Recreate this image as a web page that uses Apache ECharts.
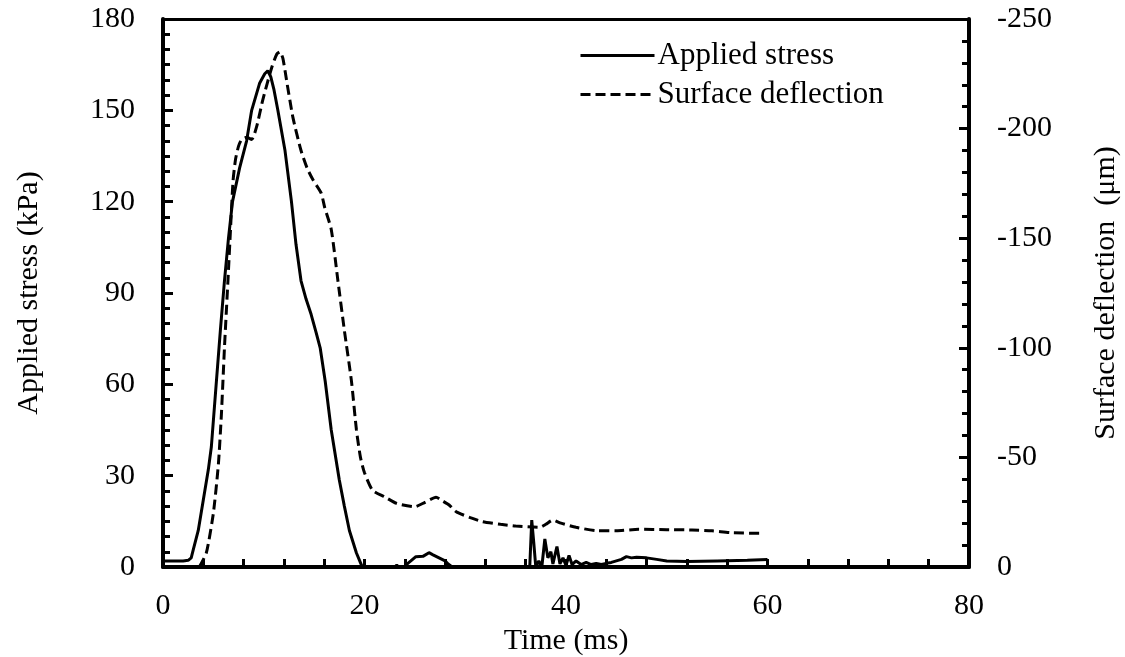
<!DOCTYPE html>
<html><head><meta charset="utf-8">
<script src="https://cdn.jsdelivr.net/npm/echarts@6/dist/echarts.min.js"></script>
<style>html,body{margin:0;padding:0;background:#fff}#c{width:1125px;height:657px}</style>
</head><body><div id="c"></div>
<script>
const stressTime = [0,1,2,2.5,2.8,3.0,3.5,4.0,4.5,4.8,5.3,5.7,6.1,6.5,6.9,7.6,8.3,8.8,9.6,10.1,10.4,10.7,11.0,11.4,12.1,12.75,13.2,13.7,14.2,14.7,15.2,15.6,16.1,16.7,17.5,18.0,18.5,19.2,19.7,20,23,23.2,23.4,24.0,24.3,24.6,25.1,25.8,26.4,26.8,27.4,28.0,28.3,28.7,36.4,36.6,36.8,37.0,37.3,37.6,37.9,38.2,38.5,38.7,39.1,39.4,39.7,40.0,40.3,40.6,41.0,41.5,42,42.5,43,43.5,44,44.5,45,45.5,46,46.5,47,48,49,50,52,55,58,60];
const stressValues = [2,2,2,2.2,3,5.6,12,22,32,39.5,61,78,94,108,120,131,140,150,159,162,163,161,157,150,137,120,106,94,88,83,77,72,61,45,28.6,20,12,4.6,0.6,0,0,0.6,0,0,1.2,2,3.4,3.5,4.7,4,3,2,1,0,0,15.4,8,0,2,0,9.2,3,5,1,6.7,1,3,0.5,3.8,0.8,2,0.8,1.5,0.8,1.2,0.8,1.2,1.5,2,2.5,3.4,3,3.2,3,2.5,2,1.8,2,2.2,2.5];
const deflTime = [3.6,4.3,5.0,5.5,5.8,6.1,6.45,6.7,6.95,7.2,7.5,7.8,8.3,8.8,9.3,9.9,10.8,11.3,11.6,11.9,12.3,12.9,13.7,14.3,14.9,15.7,16.05,16.7,17.35,18.0,18.7,19.2,19.6,20.0,20.8,22,23.2,25.0,26,27.1,27.8,28.4,29.1,30.5,31.7,33.5,35.0,37.4,38.0,38.7,39.5,41.0,43.0,45,47.2,50,52.5,54.5,56.5,59.5];
const deflValues = [0,-6.4,-24.6,-47,-70,-100,-131,-154,-176,-186,-192,-195,-196,-195,-201,-213,-228,-234,-235,-232,-221,-205,-190,-182,-176.5,-170.6,-164,-154,-131,-108,-85,-62.5,-50,-43,-35,-32,-29,-27.5,-29.5,-31.8,-30,-28.3,-25.2,-22.5,-20.7,-19.5,-18.7,-18.1,-19.5,-21.4,-20,-18.1,-16.6,-16.5,-17.2,-17,-16.9,-16.5,-15.6,-15.4];
const xTicks = [0,20,40,60,80];
const leftTicks = [0,30,60,90,120,150,180];
const rightTicks = [-250,-200,-150,-100,-50,0];

const FONT = 'Liberation Serif';
const chart = echarts.init(document.getElementById('c'));
const lab = {color:'#000', fontFamily:FONT, fontSize:30};
const nm = {color:'#000', fontFamily:FONT, fontSize:30};
const tickStyle = {color:'#000', width:3};
chart.setOption({
  animation:false,
  grid:{left:163, right:156, top:19, bottom:90, containLabel:false, outerBoundsMode:'none'},
  legend:{
    orient:'vertical', left:574, top:35, itemWidth:74, itemHeight:32, itemGap:8,
    itemStyle:{opacity:0},
    lineStyle:{width:3},
    textStyle:{color:'#000', fontFamily:FONT, fontSize:31, padding:[0,0,0,-2]},
    data:['Applied stress','Surface deflection']
  },
  xAxis:[{
    type:'value', min:xTicks[0], max:xTicks[xTicks.length-1], interval:20,
    name:'Time (ms)', nameLocation:'middle', nameGap:58,
    nameTextStyle:nm,
    axisLine:{onZero:false, lineStyle:{color:'#000', width:4}},
    axisTick:{inside:true, length:8, lineStyle:tickStyle},
    minorTick:{show:true, splitNumber:5, length:8, lineStyle:tickStyle},
    axisLabel:Object.assign({margin:24}, lab),
    splitLine:{show:false}
  },{
    type:'value', position:'top', min:0, max:80,
    axisLine:{show:true, onZero:false, lineStyle:{color:'#000', width:3}},
    axisTick:{show:false}, axisLabel:{show:false}, splitLine:{show:false}
  }],
  yAxis:[{
    type:'value', min:leftTicks[0], max:leftTicks[leftTicks.length-1], interval:30,
    name:'Applied stress (kPa)', nameLocation:'middle', nameGap:119,
    nameTextStyle:nm,
    axisLine:{show:true, onZero:false, lineStyle:{color:'#000', width:4}},
    axisTick:{inside:true, length:10, lineStyle:tickStyle},
    minorTick:{show:true, splitNumber:6, length:7, lineStyle:tickStyle},
    axisLabel:Object.assign({margin:28}, lab),
    splitLine:{show:false}
  },{
    type:'value', position:'right', inverse:true,
    min:rightTicks[0], max:rightTicks[rightTicks.length-1], interval:50,
    name:'Surface deflection  (μm)', nameLocation:'middle', nameGap:122,
    nameTextStyle:nm,
    axisLine:{show:true, onZero:false, lineStyle:{color:'#000', width:4}},
    axisTick:{inside:true, length:10, lineStyle:tickStyle},
    minorTick:{show:true, splitNumber:5, length:7, lineStyle:tickStyle},
    axisLabel:Object.assign({margin:28, align:'left'}, lab),
    splitLine:{show:false}
  }],
  series:[{
    name:'Applied stress', type:'line', xAxisIndex:0, yAxisIndex:0,
    showSymbol:false, symbol:'none',
    data: stressTime.map((t,i)=>[t, stressValues[i]]),
    lineStyle:{color:'#000', width:3}, itemStyle:{color:'#000'}
  },{
    name:'Surface deflection', type:'line', xAxisIndex:0, yAxisIndex:1,
    showSymbol:false, symbol:'none', smooth:0.2,
    data: deflTime.map((t,i)=>[t, deflValues[i]]),
    lineStyle:{color:'#000', width:3, type:[10,5]}, itemStyle:{color:'#000'}
  }]
});
</script></body></html>
